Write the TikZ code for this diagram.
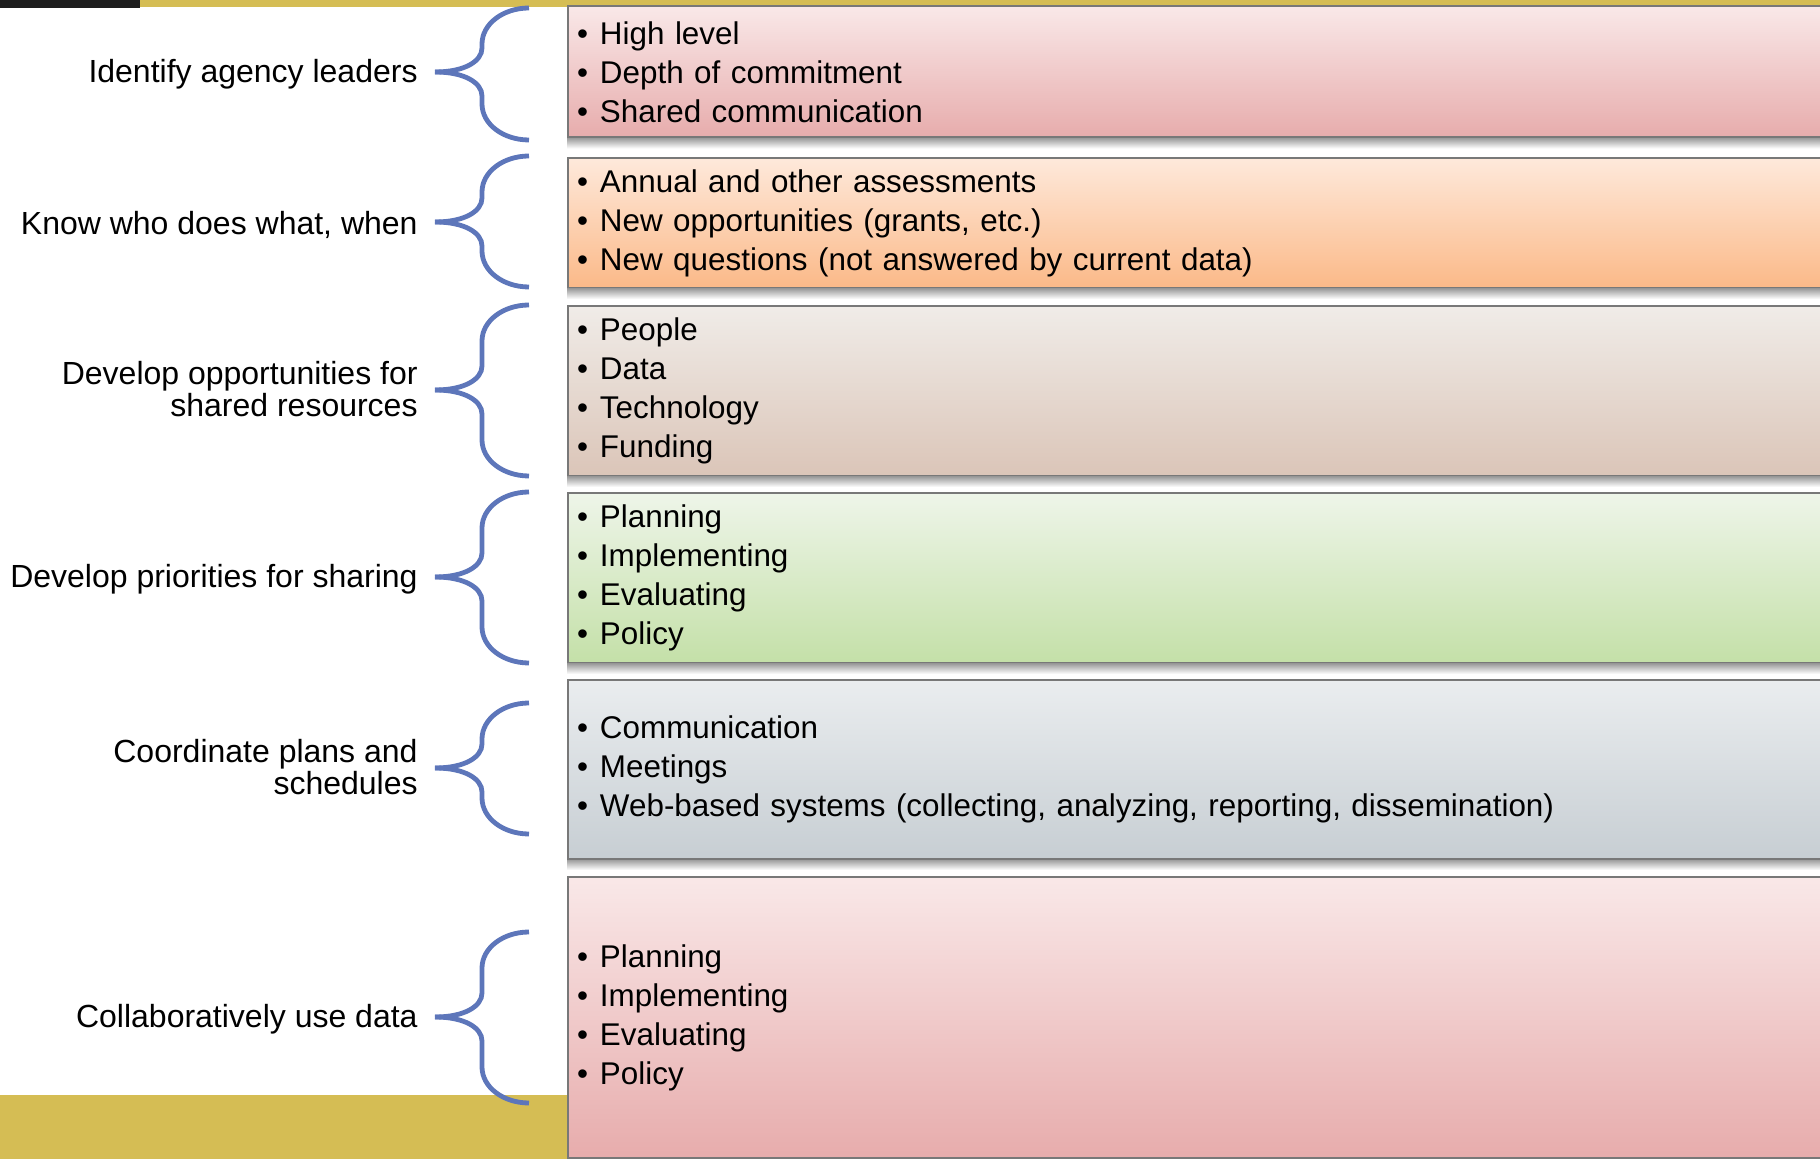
\documentclass[tikz,border=0pt]{standalone}
\usepackage{fontspec}
\setmainfont{Liberation Sans}
\usetikzlibrary{positioning}

\definecolor{goldbar}{RGB}{213,189,84}
\definecolor{darkbar}{RGB}{30,30,30}
\definecolor{bracecol}{RGB}{93,118,186}
\definecolor{edgegray}{RGB}{120,120,120}
\definecolor{pinktop}{RGB}{249,232,232}
\definecolor{pinkbot}{RGB}{231,172,172}
\definecolor{orangetop}{RGB}{254,233,219}
\definecolor{orangebot}{RGB}{251,185,136}
\definecolor{tantop}{RGB}{240,236,232}
\definecolor{tanbot}{RGB}{219,197,184}
\definecolor{greentop}{RGB}{238,245,233}
\definecolor{greenbot}{RGB}{196,224,168}
\definecolor{slatetop}{RGB}{234,237,239}
\definecolor{slatebot}{RGB}{199,206,211}

\tikzset{
  item box/.style={draw=edgegray, line width=1pt, anchor=west, inner xsep=4.5pt,
    text width=641pt, align=left, font=\fontsize{15.7pt}{19.5pt}\selectfont},
  side label/.style={align=right, inner sep=0pt, yshift=-1.25pt,
    font=\fontsize{16pt}{16pt}\selectfont},
  brace line/.style={draw=bracecol, line width=2.4pt},
}

\newcommand{\itm}{\textbullet\hspace{6pt}}

% tip, height above tip, height below tip (px)
\newcommand{\sidebrace}[3]{%
  \draw[brace line] (#1) .. controls +(30,0) and +(0,13) .. ++(47,-24)
    -- ++(0,{60-#2}) .. controls +(0,-20) and +(-26,0) .. ++(47,-36);
  \draw[brace line] (#1) .. controls +(30,0) and +(0,-13) .. ++(47,24)
    -- ++(0,{#3-60}) .. controls +(0,20) and +(-26,0) .. ++(47,36);
}

\begin{document}
\begin{tikzpicture}[x=0.5pt,y=-0.5pt]
  \useasboundingbox (0,0) rectangle (1820,1159);
  \clip (0,0) rectangle (1820,1159);

  \fill[darkbar] (0,0) rectangle (140,8);
  \fill[goldbar] (140,0) rectangle (1820,7);
  \fill[goldbar] (0,1095) rectangle (567,1159);

  % boxes
  \node[item box, top color=pinktop, bottom color=pinkbot, minimum height=65.5pt] (b1) at (567,72)
    {\itm High level\\ \itm Depth of commitment\\ \itm Shared communication};
  \node[item box, top color=orangetop, bottom color=orangebot, minimum height=65pt] (b2) at (567,223)
    {\itm Annual and other assessments\\ \itm New opportunities (grants, etc.)\\
     \itm New questions (not answered by current data)};
  \node[item box, top color=tantop, bottom color=tanbot, minimum height=85pt] (b3) at (567,391)
    {\itm People\\ \itm Data\\ \itm Technology\\ \itm Funding};
  \node[item box, top color=greentop, bottom color=greenbot, minimum height=85pt] (b4) at (567,578)
    {\itm Planning\\ \itm Implementing\\ \itm Evaluating\\ \itm Policy};
  \node[item box, top color=slatetop, bottom color=slatebot, minimum height=89.5pt] (b5) at (567,769.5)
    {\itm Communication\\ \itm Meetings\\
     \itm Web-based systems (collecting, analyzing, reporting, dissemination)};
  \node[item box, top color=pinktop, bottom color=pinkbot, minimum height=140.5pt] (b6) at (567,1017.5)
    {\itm Planning\\ \itm Implementing\\ \itm Evaluating\\ \itm Policy};

  % shadows under the boxes
  \shade[top color=gray!75, bottom color=white] (b1.south west) rectangle ([yshift=-5pt]b1.south east);
  \shade[top color=gray!75, bottom color=white] (b2.south west) rectangle ([yshift=-5pt]b2.south east);
  \shade[top color=gray!75, bottom color=white] (b3.south west) rectangle ([yshift=-5pt]b3.south east);
  \shade[top color=gray!75, bottom color=white] (b4.south west) rectangle ([yshift=-5pt]b4.south east);
  \shade[top color=gray!75, bottom color=white] (b5.south west) rectangle ([yshift=-5pt]b5.south east);

  % brace tips
  \coordinate (t1) at (435,72);
  \coordinate (t2) at (435,222);
  \coordinate (t3) at (435,390);
  \coordinate (t4) at (435,577);
  \coordinate (t5) at (435,768);
  \coordinate (t6) at (435,1017);

  % labels
  \node[side label, left=8.5pt of t1] (l1) {Identify agency leaders};
  \node[side label, left=8.5pt of t2] (l2) {Know who does what, when};
  \node[side label, left=8.5pt of t3, yshift=1.5pt] (l3) {Develop opportunities for\\ shared resources};
  \node[side label, left=8.5pt of t4] (l4) {Develop priorities for sharing};
  \node[side label, left=8.5pt of t5, yshift=1.5pt] (l5) {Coordinate plans and\\ schedules};
  \node[side label, left=8.5pt of t6] (l6) {Collaboratively use data};

  \sidebrace{t1}{64}{68}
  \sidebrace{t2}{66}{65}
  \sidebrace{t3}{85}{86}
  \sidebrace{t4}{85}{86}
  \sidebrace{t5}{65}{66}
  \sidebrace{t6}{85}{86}
\end{tikzpicture}
\end{document}
